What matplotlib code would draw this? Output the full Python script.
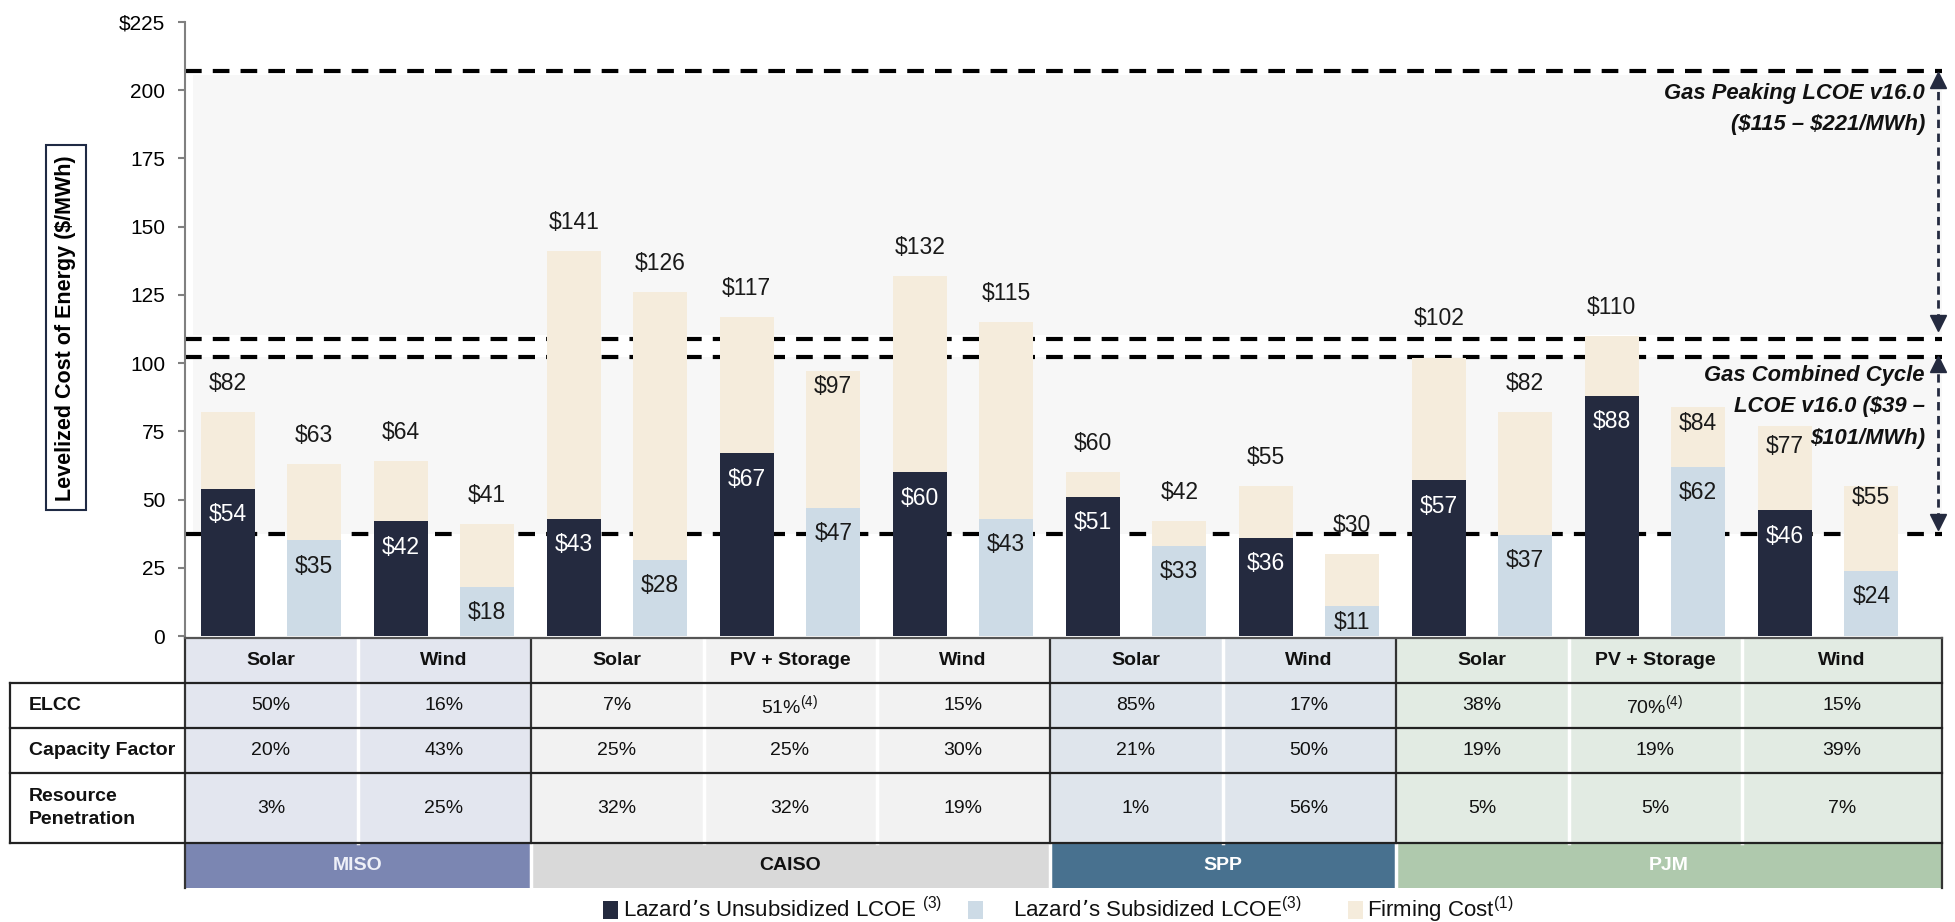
import matplotlib
matplotlib.use("Agg")
from matplotlib import pyplot
from matplotlib.patches import Rectangle
import numpy

pyplot.rcParams['lines.scale_dashes'] = False
pyplot.rcParams['mathtext.default'] = 'regular'

FONT = ['Liberation Sans', 'DejaVu Sans']

# ---- data ----
regions = ["MISO", "CAISO", "SPP", "PJM"]
region_ncols = [2, 3, 2, 3]
techs = ["Solar", "Wind", "Solar", "PV + Storage", "Wind",
         "Solar", "Wind", "Solar", "PV + Storage", "Wind"]
unsub_lcoe = [54, 42, 43, 67, 60, 51, 36, 57, 88, 46]
unsub_total = [82, 64, 141, 117, 132, 60, 55, 102, 110, 77]
sub_lcoe = [35, 18, 28, 47, 43, 33, 11, 37, 62, 24]
sub_total = [63, 41, 126, 97, 115, 42, 30, 82, 84, 55]
elcc = ["50%", "16%", "7%", "51%$^{(4)}$", "15%",
        "85%", "17%", "38%", "70%$^{(4)}$", "15%"]
capacity_factor = ["20%", "43%", "25%", "25%", "30%",
                   "21%", "50%", "19%", "19%", "39%"]
penetration = ["3%", "25%", "32%", "32%", "19%",
               "1%", "56%", "5%", "5%", "7%"]
row_labels = ["ELCC", "Capacity Factor", "Resource\nPenetration"]
gas_cc = [37.4, 102.4]
gas_peak = [108.8, 206.9]
yticks = [0, 25, 50, 75, 100, 125, 150, 175, 200, 225]
ytick_labels = ["0", "25", "50", "75", "100", "125", "150", "175", "200", "$225"]

firm_unsub = numpy.array(unsub_total) - numpy.array(unsub_lcoe)
firm_sub = numpy.array(sub_total) - numpy.array(sub_lcoe)

# ---- colours ----
NAVY = '#242a3f'
LIGHTBLUE = '#cddbe6'
BEIGE = '#f5ecdc'
SHADE = '#f7f7f7'
col_fill = ['#e3e6ef', '#f2f2f2', '#dfe5ec', '#e2ebe3']
band_fill = ['#7b86b2', '#d9d9d9', '#48718f', '#afc9ad']
band_text = ['#eef0f8', '#111111', 'white', 'white']

# ---- layout (pixels) ----
W, H = 1955, 922
px_unit = 173.
px_first = 271.
px_axl, px_axr = 184.5, 1942.
px_tabl = 9.6
y_zero, y_top = 636., 22.
rows = [638, 683, 728, 773, 843, 888]

x_right = (px_axr - px_first) / px_unit
x_tabl = (px_tabl - px_first) / px_unit

fig = pyplot.figure(figsize=(W / 100, H / 100), dpi=100)

ax = fig.add_axes([px_axl / W, 1 - y_zero / H, (px_axr - px_axl) / W,
                   (y_zero - y_top) / H])
ax.set_xlim(-0.5, x_right)
ax.set_ylim(0, 225)

xs = numpy.arange(len(techs))
off = 0.25
bw = 0.315

# shaded gas ranges and dashed lines
ax.axhspan(gas_cc[0], gas_cc[1], xmin=0.005, xmax=1, color=SHADE, zorder=0, lw=0)
ax.axhspan(gas_peak[0] + 1.5, gas_peak[1] - 1.2, xmin=0.005, xmax=1, color=SHADE,
           zorder=0, lw=0)
for yv in gas_cc + gas_peak:
    ax.axhline(yv, color='black', lw=3, dashes=(12, 8), zorder=1)

# bars
ax.bar(xs - off, unsub_lcoe, bw, color=NAVY, zorder=3)
ax.bar(xs - off, firm_unsub, bw, bottom=unsub_lcoe, color=BEIGE, zorder=3)
ax.bar(xs + off, sub_lcoe, bw, color=LIGHTBLUE, zorder=3)
ax.bar(xs + off, firm_sub, bw, bottom=sub_lcoe, color=BEIGE, zorder=3)

# labels
lab_size = 16.5
unsub_shift = {7: 14.5, 9: -7.6}
sub_shift = {3: -5.5, 8: -6.0, 9: -4.4}
for i in xs:
    ax.text(i - off, unsub_lcoe[i] - 9.5, "${}".format(unsub_lcoe[i]), color='white',
            ha='center', va='center', fontsize=lab_size, family=FONT, zorder=4)
    ax.text(i + off, max(sub_lcoe[i] - 9.5, 5), "${}".format(sub_lcoe[i]),
            color='#1a1a1a', ha='center', va='center', fontsize=lab_size,
            family=FONT, zorder=4)
    ax.text(i - off, unsub_total[i] + unsub_shift.get(i, 10.5),
            "${}".format(unsub_total[i]), color='#1a1a1a', ha='center',
            va='center', fontsize=lab_size, family=FONT, zorder=4)
    ax.text(i + off, sub_total[i] + sub_shift.get(i, 10.5),
            "${}".format(sub_total[i]), color='#1a1a1a', ha='center',
            va='center', fontsize=lab_size, family=FONT, zorder=4)

# arrows on the right
xa = (1937.5 - px_first) / px_unit
for lo, hi in [(39.2, 102.4), (112.1, 206.3)]:
    ax.plot([xa, xa], [lo + 3, hi - 3], color=NAVY, lw=2, dashes=(6, 4),
            zorder=5, clip_on=False)
    ax.plot(xa, hi - 2.6, marker='^', ms=11, color=NAVY, zorder=6, clip_on=False)
    ax.plot(xa, lo + 2.6, marker='v', ms=11, color=NAVY, zorder=6, clip_on=False)

# gas annotations
xt = (1925 - px_first) / px_unit
for yv, s in [(198.9, "Gas Peaking LCOE v16.0"),
              (187.3, "(\\$115 \u2013 \\$221/MWh)"),
              (95.6, "Gas Combined Cycle"),
              (84.0, "LCOE v16.0 ($39 \u2013"),
              (72.4, "$101/MWh)")]:
    ax.text(xt, yv, s, ha='right', va='center', fontsize=15.8, fontweight='bold',
            fontstyle='italic', family=FONT, color='#111111', zorder=6)

# axes styling
for side in ['top', 'right', 'bottom']:
    ax.spines[side].set_visible(False)
ax.spines['left'].set_color('#808080')
ax.spines['left'].set_linewidth(1.5)
ax.set_xticks([])
ax.set_yticks(yticks)
ax.set_yticklabels(ytick_labels, family=FONT, fontsize=15)
ax.tick_params(axis='y', direction='out', length=5, width=1.5, color='#808080',
               pad=9)

fig.text(66 / W, 1 - 328 / H, "Levelized Cost of Energy ($/MWh)", rotation=90,
         ha='center', va='center', fontsize=15.5, fontweight='bold', family=FONT,
         bbox=dict(boxstyle='square,pad=0.45', fc='white', ec='#1f2a44', lw=1.5))

# ---- table ----
tab = fig.add_axes([px_tabl / W, 1 - rows[-1] / H, (px_axr - px_tabl) / W,
                    (rows[-1] - rows[0]) / H])
tab.set_xlim(x_tabl, x_right)
tab.set_ylim(rows[-1], rows[0])
tab.axis('off')

tsize = 14
edges = [-0.5 + k for k in range(len(techs))] + [x_right]
starts = numpy.concatenate([[0], numpy.cumsum(region_ncols)])
col_region = numpy.repeat(numpy.arange(len(regions)), region_ncols)

for c in range(len(techs)):
    tab.add_patch(Rectangle((edges[c], rows[0]), edges[c + 1] - edges[c],
                            rows[4] - rows[0], fc=col_fill[col_region[c]], ec='none'))
    if c not in starts:
        tab.plot([edges[c]] * 2, [rows[0], rows[4]], color='white', lw=2.5)
for r in range(len(regions)):
    x0, x1 = edges[starts[r]], edges[starts[r + 1]]
    tab.add_patch(Rectangle((x0, rows[4]), x1 - x0, rows[5] - rows[4],
                            fc=band_fill[r], ec='none'))
    tab.text((x0 + x1) / 2, (rows[4] + rows[5]) / 2, regions[r], ha='center',
             va='center', fontsize=tsize, fontweight='bold', family=FONT,
             color=band_text[r])
    if r > 0:
        tab.plot([x0, x0], [rows[4], rows[5]], color='white', lw=2.5)
        tab.plot([x0, x0], [rows[0], rows[4]], color='#333333', lw=1.6)

tab.plot([edges[0]] * 2, [rows[0], rows[5]], color='#333333', lw=1.6, clip_on=False)
tab.plot([edges[-1]] * 2, [rows[0], rows[5]], color='#333333', lw=1.6, clip_on=False)
tab.plot([x_tabl] * 2, [rows[1], rows[4]], color='#222222', lw=1.6, clip_on=False)
tab.plot([edges[0], edges[-1]], [rows[0]] * 2, color='#555555', lw=1.6, clip_on=False)
for yv in rows[1:5]:
    tab.plot([x_tabl, edges[-1]], [yv] * 2, color='#222222', lw=1.6, clip_on=False)

centers = [(edges[c] + edges[c + 1]) / 2 for c in range(len(techs))]
for c in range(len(techs)):
    tab.text(centers[c], (rows[0] + rows[1]) / 2, techs[c], ha='center', va='center',
             fontsize=tsize, fontweight='bold', family=FONT, color='#111111')
    for k, vals in enumerate([elcc, capacity_factor, penetration]):
        tab.text(centers[c], (rows[k + 1] + rows[k + 2]) / 2, vals[c], ha='center',
                 va='center', fontsize=tsize, family=FONT, color='#111111')
for k, lab in enumerate(row_labels):
    tab.text((29 - px_first) / px_unit, (rows[k + 1] + rows[k + 2]) / 2, lab,
             ha='left', va='center', fontsize=tsize, fontweight='bold', family=FONT,
             color='#111111', linespacing=1.4)

# ---- legend ----
leg_items = [(NAVY, 603, 623, "Lazard\u2019s Unsubsidized LCOE $^{(3)}$"),
             (LIGHTBLUE, 968, 1013, "Lazard\u2019s Subsidized LCOE$^{(3)}$"),
             (BEIGE, 1348, 1367, "Firming Cost$^{(1)}$")]
y_leg = 909.5
for colr, xsq, xtx, lab in leg_items:
    fig.patches.append(Rectangle((xsq / W, 1 - (y_leg + 9) / H), 15 / W, 18 / H,
                                 transform=fig.transFigure, fc=colr, ec='none'))
    fig.text(xtx / W, 1 - y_leg / H, lab, ha='left', va='center', fontsize=16,
             family=FONT, color='#111111')

fig.savefig("out.png", dpi=100)
